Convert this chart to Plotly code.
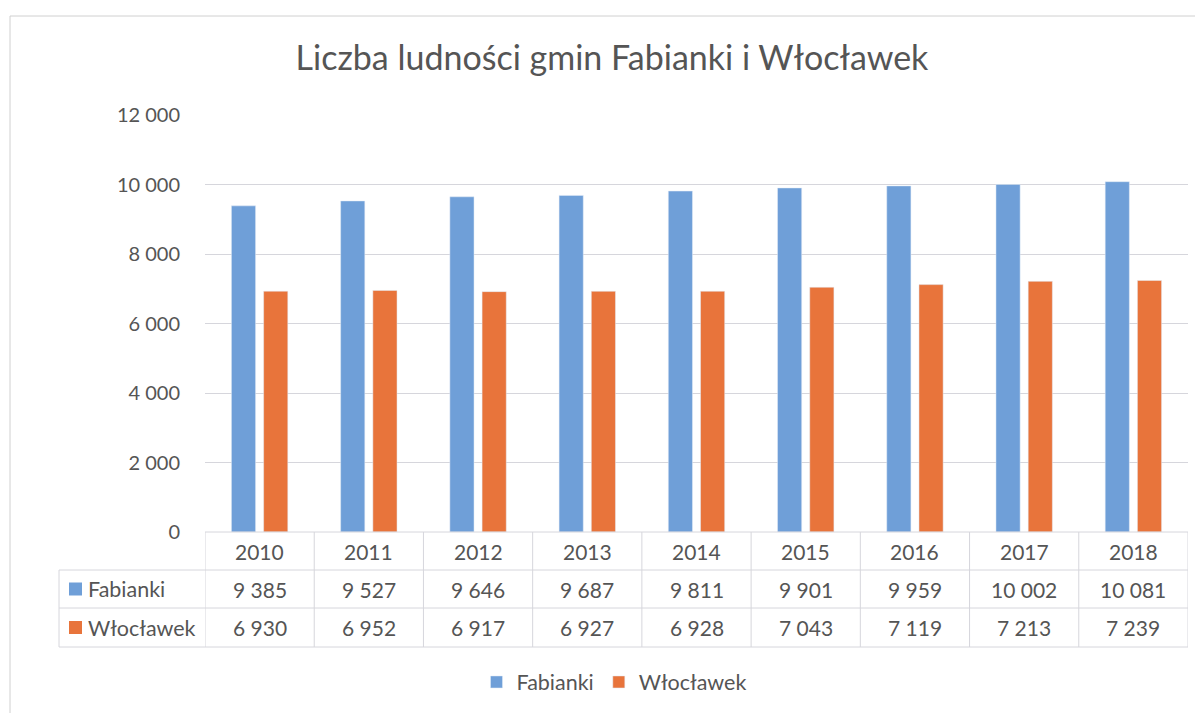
import plotly.graph_objects as go

years = ["2010", "2011", "2012", "2013", "2014", "2015", "2016", "2017", "2018"]
fabianki = [9385, 9527, 9646, 9687, 9811, 9901, 9959, 10002, 10081]
wloclawek = [6930, 6952, 6917, 6927, 6928, 7043, 7119, 7213, 7239]
series_names = ["Fabianki", "Włocławek"]
y_ticks = [0, 2000, 4000, 6000, 8000, 10000, 12000]

OFF = 8  # default page body margin
W, H = 1203 - OFF, 713 - OFF
# screen-pixel geometry
SL, SR, ST, SB = 205, 1188, 115, 532
L, R, T, B = SL - OFF, SR - OFF, ST - OFF, SB - OFF
BLUE = "#6f9fd8"
ORANGE = "#e8743b"
TXT = "#555555"
GRID = "#d6d6dc"
FONT = "Lato"


def px(xs):
    return (xs - SL) / (SR - SL)


def py(ys):
    return (SB - ys) / (SB - ST)


def fmt(v):
    return f"{v:,}".replace(",", " ")


fig = go.Figure()
fig.add_trace(go.Bar(x=years, y=fabianki, name=series_names[0], marker_color=BLUE))
fig.add_trace(go.Bar(x=years, y=wloclawek, name=series_names[1], marker_color=ORANGE))

shapes = []
line = dict(color=GRID, width=1)
# outer chart frame
shapes.append(dict(type="rect", xref="paper", yref="paper", x0=px(10), x1=px(1240),
                   y0=py(16), y1=py(760), line=dict(color="#d0d0d0", width=1)))
# table lines
row_top, r1, r2, r3 = 532, 570, 608, 647
TL = 59
shapes.append(dict(type="line", xref="paper", yref="paper", x0=0, x1=1, y0=py(row_top), y1=py(row_top), line=line))
for yy in (r1, r2, r3):
    shapes.append(dict(type="line", xref="paper", yref="paper", x0=px(TL), x1=1, y0=py(yy), y1=py(yy), line=line))
for i in range(len(years) + 1):
    shapes.append(dict(type="line", xref="x", yref="paper", x0=i - 0.5, x1=i - 0.5,
                       y0=py(row_top), y1=py(r3), line=line))
shapes.append(dict(type="line", xref="paper", yref="paper", x0=px(TL), x1=px(TL),
                   y0=py(r1), y1=py(r3), line=line))
# legend keys in table
for yy, c in ((589, BLUE), (627.5, ORANGE)):
    shapes.append(dict(type="rect", xref="paper", yref="paper", x0=px(69), x1=px(82),
                       y0=py(yy - 6.5), y1=py(yy + 6.5), fillcolor=c, line=dict(width=0)))

ann = []
tf = dict(family=FONT, size=21, color=TXT)
lf = dict(family=FONT, size=21.5, color=TXT)
for i, yr in enumerate(years):
    ann.append(dict(x=i, y=py(551), xref="x", yref="paper", text=yr, showarrow=False,
                    xanchor="center", yanchor="middle", font=tf))
    ann.append(dict(x=i, y=py(589), xref="x", yref="paper", text=fmt(fabianki[i]), showarrow=False,
                    xanchor="center", yanchor="middle", font=tf))
    ann.append(dict(x=i, y=py(627.5), xref="x", yref="paper", text=fmt(wloclawek[i]), showarrow=False,
                    xanchor="center", yanchor="middle", font=tf))
for yy, nm in ((589, series_names[0]), (627.5, series_names[1])):
    ann.append(dict(x=px(86), y=py(yy), xref="paper", yref="paper", text=nm, showarrow=False,
                    xanchor="left", yanchor="middle", font=lf))

fig.update_layout(
    width=W, height=H,
    margin=dict(l=L, r=W - R, t=T, b=H - B, autoexpand=False),
    paper_bgcolor="white", plot_bgcolor="white",
    separators=", ",
    title=dict(text="Liczba ludności gmin Fabianki i Włocławek", x=(612 - OFF) / W, xanchor="center",
               y=1 - (58 - OFF) / H, yanchor="middle", font=dict(family=FONT, size=34, color=TXT)),
    barmode="group", bargap=0.41, bargroupgap=0.25,
    xaxis=dict(range=[-0.5, len(years) - 0.5], showticklabels=False, showgrid=False,
               zeroline=False, showline=False, ticks=""),
    yaxis=dict(range=[0, 12000], tickvals=y_ticks, tickformat=",d", showgrid=True,
               gridcolor=GRID, gridwidth=1, zeroline=False, showline=False,
               tickfont=dict(family=FONT, size=20, color=TXT), ticklabelstandoff=24),
    legend=dict(orientation="h", xref="container", yref="container", x=(614 - OFF) / W, xanchor="center",
                y=1 - (682 - OFF) / H, yanchor="middle", font=lf,
                itemwidth=30, traceorder="normal"),
    shapes=shapes, annotations=ann,
)

fig.write_html("out.html")
